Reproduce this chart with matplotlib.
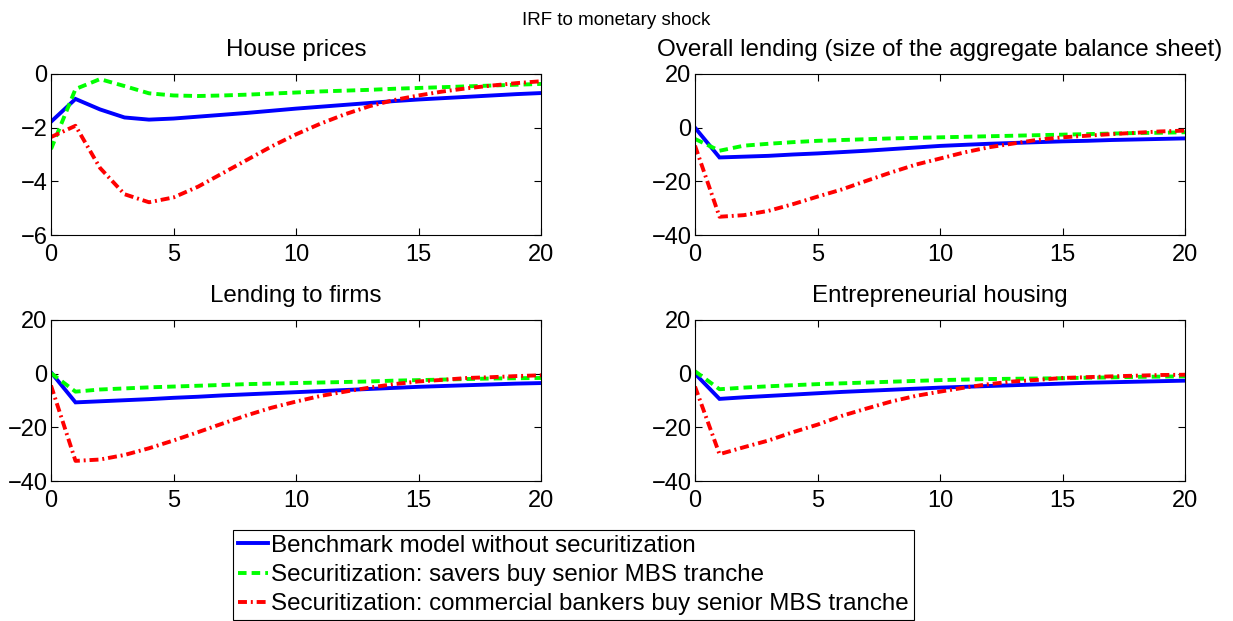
import numpy as np
import matplotlib
matplotlib.use('Agg')
import matplotlib.pyplot as plt

plt.rcParams['font.family'] = ['Liberation Sans', 'DejaVu Sans']
plt.rcParams['font.size'] = 17

t = np.arange(21)

# house prices
hp_bench = [-1.78, -0.93, -1.32, -1.62, -1.70, -1.66, -1.59, -1.52, -1.45, -1.37, -1.29,
            -1.22, -1.15, -1.08, -1.01, -0.95, -0.90, -0.85, -0.80, -0.75, -0.71]
hp_savers = [-2.80, -0.56, -0.19, -0.45, -0.72, -0.80, -0.82, -0.80, -0.77, -0.73, -0.69,
             -0.65, -0.62, -0.59, -0.55, -0.52, -0.49, -0.46, -0.43, -0.40, -0.37]
hp_comm = [-2.35, -1.93, -3.50, -4.48, -4.78, -4.60, -4.20, -3.70, -3.20, -2.70, -2.25,
           -1.85, -1.50, -1.20, -0.97, -0.80, -0.65, -0.53, -0.43, -0.34, -0.27]

# overall lending
ol_bench = [0.0, -11.1, -10.8, -10.5, -10.0, -9.6, -9.1, -8.6, -8.0, -7.4, -6.8,
            -6.4, -6.0, -5.7, -5.4, -5.1, -4.9, -4.6, -4.4, -4.2, -4.0]
ol_savers = [-4.2, -8.6, -6.7, -6.0, -5.4, -4.9, -4.6, -4.3, -4.0, -3.8, -3.6,
             -3.4, -3.2, -3.0, -2.8, -2.6, -2.4, -2.2, -2.0, -1.9, -1.7]
ol_comm = [-6.7, -33.2, -32.6, -31.0, -28.5, -25.7, -23.0, -19.8, -16.7, -13.8, -11.5,
           -9.2, -7.3, -5.9, -4.5, -3.6, -3.0, -2.4, -1.9, -1.4, -1.1]

# lending to firms
lf_bench = [0.5, -10.7, -10.3, -9.9, -9.5, -9.0, -8.6, -8.1, -7.7, -7.3, -6.9,
            -6.5, -6.1, -5.7, -5.3, -4.9, -4.6, -4.3, -4.0, -3.7, -3.5]
lf_savers = [0.2, -6.7, -5.9, -5.5, -5.1, -4.8, -4.5, -4.2, -3.9, -3.7, -3.5,
             -3.3, -3.1, -2.9, -2.6, -2.4, -2.2, -2.0, -1.8, -1.7, -1.6]
lf_comm = [-4.4, -32.5, -32.0, -30.3, -27.8, -24.9, -21.8, -18.6, -15.5, -12.7, -10.4,
           -8.3, -6.7, -5.2, -3.9, -2.9, -2.3, -1.6, -1.3, -0.9, -0.6]

# entrepreneurial housing
eh_bench = [0.0, -9.4, -8.8, -8.3, -7.8, -7.3, -6.8, -6.4, -6.0, -5.6, -5.2,
            -4.9, -4.6, -4.3, -4.0, -3.7, -3.4, -3.2, -3.0, -2.8, -2.6]
eh_savers = [0.9, -5.8, -5.2, -4.7, -4.3, -3.9, -3.6, -3.3, -3.0, -2.7, -2.4,
             -2.2, -2.0, -1.9, -1.8, -1.7, -1.5, -1.4, -1.2, -1.1, -1.0]
eh_comm = [-4.8, -30.0, -27.4, -24.9, -21.8, -19.0, -15.7, -13.0, -10.4, -8.3, -6.7,
           -5.2, -3.9, -2.9, -2.3, -1.6, -1.3, -1.0, -0.75, -0.5, -0.4]

titles = ['House prices', 'Overall lending (size of the aggregate balance sheet)',
          'Lending to firms', 'Entrepreneurial housing']
series = [(hp_bench, hp_savers, hp_comm), (ol_bench, ol_savers, ol_comm),
          (lf_bench, lf_savers, lf_comm), (eh_bench, eh_savers, eh_comm)]
labels = ['Benchmark model without securitization',
          'Securitization: savers buy senior MBS tranche',
          'Securitization: commercial bankers buy senior MBS tranche']

fig = plt.figure(figsize=(12.33, 6.21), dpi=100)
W, H = 1233, 621
boxes = [(51, 74), (695, 74), (51, 320), (695, 320)]

for i, (x0, y0) in enumerate(boxes):
    ax = fig.add_axes([x0 / W, 1 - (y0 + 161) / H, 490 / W, 161 / H])
    b, s, c = series[i]
    lb, = ax.plot(t, b, color='#0000ff', lw=2.8, solid_joinstyle='miter')
    ls, = ax.plot(t, s, color='#00ff00', lw=2.8, dashes=(2.2, 1.3))
    lc, = ax.plot(t, c, color='#ff0000', lw=2.8, dashes=(2.3, 1.0, 0.5, 1.0))
    ax.set_xlim(0, 20)
    ax.set_xticks([0, 5, 10, 15, 20])
    if i == 0:
        ax.set_ylim(-6, 0)
        ax.set_yticks([-6, -4, -2, 0])
    else:
        ax.set_ylim(-40, 20)
        ax.set_yticks([-40, -20, 0, 20])
    ax.tick_params(direction='in', top=True, right=True, length=5, width=0.8,
                   labelsize=17)
    ax.tick_params(axis='x', pad=6.5)
    ax.tick_params(axis='y', pad=2.5)
    for sp in ax.spines.values():
        sp.set_linewidth(0.8)
    ax.set_title(titles[i], fontsize=17.4, pad=13)

fig.text(0.5, 1 - 25 / H, 'IRF to monetary shock', ha='center', va='baseline', fontsize=13.5)

leg = fig.legend([lb, ls, lc], labels, loc='upper left',
                 bbox_to_anchor=(233 / W, 1 - 530 / H), borderaxespad=0,
                 fontsize=17.4, fancybox=False, framealpha=1, edgecolor='black',
                 handlelength=1.25, handletextpad=0.13, borderpad=0.2,
                 labelspacing=0.3)
leg.get_frame().set_linewidth(0.8)

fig.savefig('out.png', dpi=100)
